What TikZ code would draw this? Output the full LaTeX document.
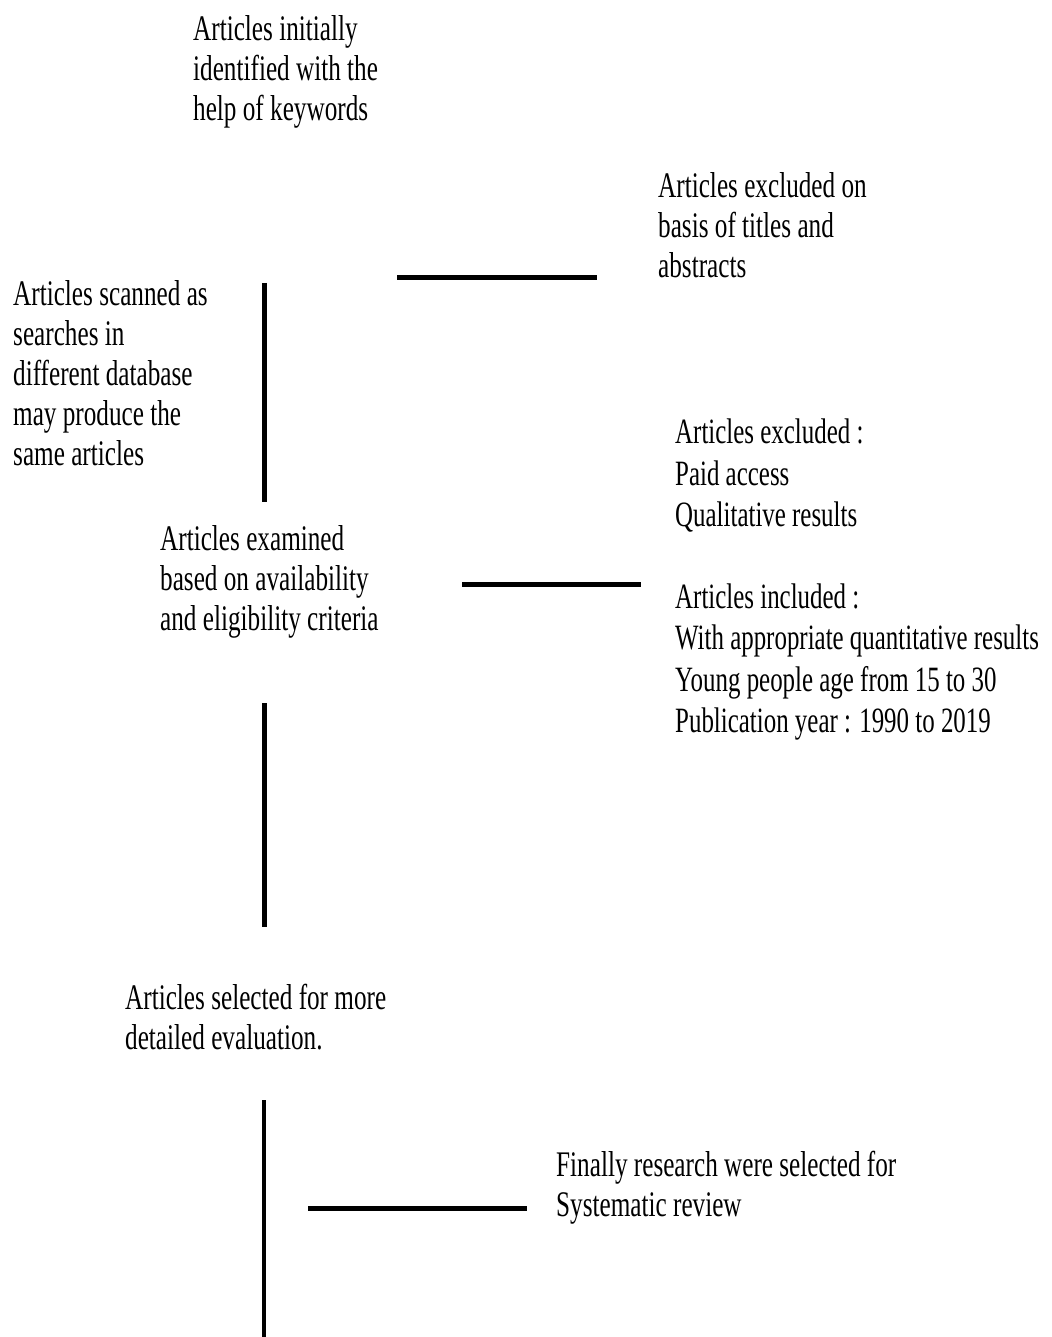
\documentclass[tikz,border=0pt]{standalone}
\usepackage{fontspec}
\setmainfont[FakeStretch=0.70]{Liberation Serif}
\usetikzlibrary{positioning}

\begin{document}
\begin{tikzpicture}[x=1pt, y=-1pt,
    txt/.style={anchor=north west, align=left, inner sep=0pt,
        font=\fontsize{36}{40}\selectfont},
    bar/.style={line width=5pt}]
    % Khung trang
    \useasboundingbox (0,0) rectangle (1051,1337);

    % Cac khoi chu
    \node[txt] (keywords) at (193,15) {Articles initially\\identified with the\\help of keywords};
    \node[txt] (titles) at (658,172) {Articles excluded on\\basis of titles and\\abstracts};
    \node[txt] (scanned) at (13,280) {Articles scanned as\\searches in\\different database\\may produce the\\same articles};
    \node[txt] (examined) at (160,525) {Articles examined\\based on availability\\and eligibility criteria};
    \node[txt, font=\fontsize{35.6}{41.2}\selectfont] (criteria) at (675,419) {Articles excluded :\\Paid access\\Qualitative results\\[41.2pt]Articles included :\\With appropriate quantitative results\\Young people age from 15 to 30\\Publication year : 1990 to 2019};
    \node[txt] (selected) at (125,984) {Articles selected for more\\detailed evaluation.};
    \node[txt] (final) at (556,1151) {Finally research were selected for\\Systematic review};

    % Diem dau / cuoi cua cac doan thang
    \coordinate (h1a) at (397,278);  \coordinate (h1b) at (597,278);
    \coordinate (v1a) at (264,283);  \coordinate (v1b) at (264,502);
    \coordinate (h2a) at (462,584);  \coordinate (h2b) at (641,584);
    \coordinate (v2a) at (264,703);  \coordinate (v2b) at (264,927);
    \coordinate (v3a) at (264,1100); \coordinate (v3b) at (264,1337);
    \coordinate (h3a) at (308,1208); \coordinate (h3b) at (527,1208);

    % Cac doan thang
    \draw[bar] (h1a) -- (h1b);
    \draw[bar] (v1a) -- (v1b);
    \draw[bar] (h2a) -- (h2b);
    \draw[bar] (v2a) -- (v2b);
    \draw[line width=3.5pt] (v3a) -- (v3b);
    \draw[bar] (h3a) -- (h3b);
\end{tikzpicture}
\end{document}
